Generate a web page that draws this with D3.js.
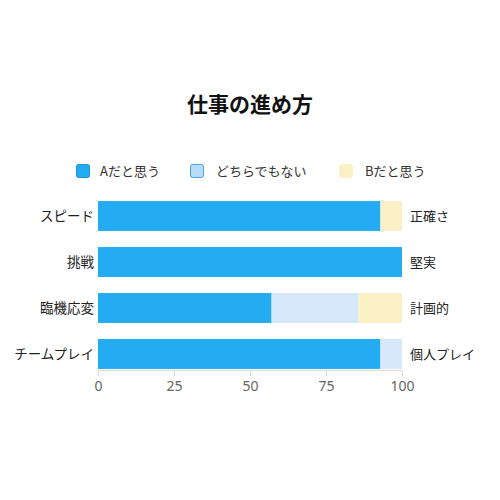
<!DOCTYPE html>
<html>
<head>
<meta charset="utf-8">
<script src="https://cdn.jsdelivr.net/npm/d3@7"></script>
<style>
  body { margin: 0; background: #fff; }
  text { font-family: "Noto Sans CJK JP", "Noto Sans", sans-serif; }
</style>
</head>
<body>
<div id="chart"></div>
<script>
// Data
var leftLabels = ["スピード", "挑戦", "臨機応変", "チームプレイ"];
var rightLabels = ["正確さ", "堅実", "計画的", "個人プレイ"];
var seriesNames = ["Aだと思う", "どちらでもない", "Bだと思う"];
var valuesA = [92.9, 100, 57.1, 92.9];
var valuesNeutral = [0, 0, 28.6, 7.1];
var valuesB = [7.1, 0, 14.3, 0];
var xTicks = [0, 25, 50, 75, 100];

var fills = ["#24acf2", "#d5e8fc", "#faf0c6"];
var legendFills = ["#24acf2", "#b6dcfa", "#faf0c6"];
var legendStrokes = ["#1b95d6", "#4f9fd8", "#faf0c6"];

var svgWidth = 500;
var svgHeight = 500;

var svg = d3.select("#chart")
    .append("svg")
    .attr("width", svgWidth)
    .attr("height", svgHeight);

// Title
svg.append("text")
    .attr("x", 250)
    .attr("y", 112)
    .attr("text-anchor", "middle")
    .attr("font-size", "21px")
    .attr("font-weight", "bold")
    .attr("fill", "#111")
    .text("仕事の進め方");

// Legend
var legendX = [76, 190, 339];
var legendTextX = [100, 216, 365];
var legend = svg.append("g");
seriesNames.forEach(function(name, i) {
    legend.append("rect")
        .attr("x", legendX[i] + 0.5)
        .attr("y", 164.5)
        .attr("width", 13)
        .attr("height", 13)
        .attr("rx", 2)
        .attr("fill", legendFills[i])
        .attr("stroke", legendStrokes[i]);
    legend.append("text")
        .attr("x", legendTextX[i])
        .attr("y", 175.5)
        .attr("font-size", "13px")
        .attr("fill", "#333")
        .text(name);
});

// Scales
var x = d3.scaleLinear()
    .domain([0, 100])
    .range([98, 402]);

var y = d3.scaleBand()
    .domain(leftLabels)
    .range([193, 377])
    .paddingInner(0.35)
    .paddingOuter(0.175);

// Stacked rows
var rows = leftLabels.map(function(c, i) {
    return { cat: c, a: valuesA[i], n: valuesNeutral[i], b: valuesB[i] };
});
var stack = d3.stack().keys(["a", "n", "b"])(rows);

var barsGroup = svg.append("g");
barsGroup.selectAll("g")
    .data(stack)
    .enter()
    .append("g")
    .attr("fill", (d, i) => fills[i])
    .selectAll("rect")
    .data(d => d)
    .enter()
    .append("rect")
    .attr("x", d => x(d[0]))
    .attr("y", d => y(d.data.cat))
    .attr("width", d => x(d[1]) - x(d[0]))
    .attr("height", y.bandwidth());

// Left labels
svg.append("g").selectAll("text")
    .data(leftLabels)
    .enter()
    .append("text")
    .attr("x", 94)
    .attr("y", d => y(d) + y.bandwidth() / 2)
    .attr("dy", "0.35em")
    .attr("text-anchor", "end")
    .attr("font-size", "13.5px")
    .attr("fill", "#222")
    .text(d => d);

// Right labels
svg.append("g").selectAll("text")
    .data(rightLabels)
    .enter()
    .append("text")
    .attr("x", 410)
    .attr("y", (d, i) => y(leftLabels[i]) + y.bandwidth() / 2)
    .attr("dy", "0.35em")
    .attr("font-size", "13px")
    .attr("fill", "#222")
    .text(d => d);

// X axis
var axisY = y(leftLabels[leftLabels.length - 1]) + y.bandwidth() + 1;
var xAxis = svg.append("g")
    .attr("transform", `translate(0, ${axisY})`)
    .call(d3.axisBottom(x).tickValues(xTicks).tickSize(6).tickSizeOuter(6));
xAxis.select(".domain").attr("stroke", "#e2d6d6");
xAxis.selectAll(".tick line").attr("stroke", "#e2d6d6");
xAxis.selectAll(".tick text")
    .attr("font-size", "14px")
    .attr("fill", "#666")
    .attr("dy", "0.85em")
    .style("font-family", "'Noto Sans', sans-serif");
</script>
</body>
</html>
